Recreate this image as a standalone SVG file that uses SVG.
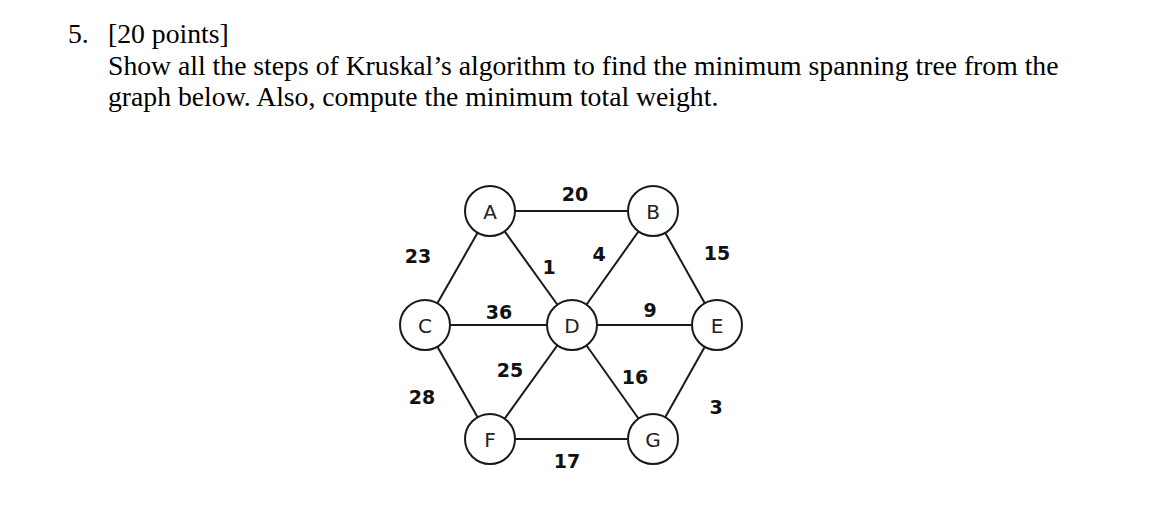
<svg xmlns="http://www.w3.org/2000/svg" width="1149" height="525" viewBox="0 0 1149 525">
<style>
.t{font-family:"Liberation Serif","Times New Roman",serif;font-size:27.7px;fill:#000}
.e line{stroke:#1a1a1a;stroke-width:2}
.n circle{fill:#fff;stroke:#1a1a1a;stroke-width:2}
.n text{font-family:"DejaVu Sans",Verdana,sans-serif;font-size:20px;fill:#222;text-anchor:middle;dominant-baseline:central}
.w{font-family:"DejaVu Sans",Verdana,sans-serif;font-size:19px;font-weight:bold;fill:#111;text-anchor:middle;dominant-baseline:central}
</style>
<rect width="1149" height="525" fill="#fff"/>
<text class="t" x="68" y="43">5.</text>
<text class="t" x="108" y="43">[20 points]</text>
<text class="t" x="108" y="75">Show all the steps of Kruskal’s algorithm to find the minimum spanning tree from the</text>
<text class="t" x="108" y="106">graph below. Also, compute the minimum total weight.</text>
<g class="e" id="edges">
<line x1="490" y1="211" x2="653" y2="211"/>
<line x1="490" y1="211" x2="425" y2="325"/>
<line x1="490" y1="211" x2="572" y2="325"/>
<line x1="653" y1="211" x2="572" y2="325"/>
<line x1="653" y1="211" x2="717" y2="325"/>
<line x1="425" y1="325" x2="572" y2="325"/>
<line x1="572" y1="325" x2="717" y2="325"/>
<line x1="425" y1="325" x2="490" y2="439"/>
<line x1="572" y1="325" x2="490" y2="439"/>
<line x1="572" y1="325" x2="653" y2="439"/>
<line x1="717" y1="325" x2="653" y2="439"/>
<line x1="490" y1="439" x2="653" y2="439"/>
</g>
<g id="weights">
<text class="w" x="575" y="194">20</text>
<text class="w" x="418" y="256">23</text>
<text class="w" x="549" y="267">1</text>
<text class="w" x="599" y="254">4</text>
<text class="w" x="717" y="253">15</text>
<text class="w" x="499" y="312">36</text>
<text class="w" x="650" y="310">9</text>
<text class="w" x="510" y="370">25</text>
<text class="w" x="635" y="377">16</text>
<text class="w" x="422" y="397">28</text>
<text class="w" x="716" y="407">3</text>
<text class="w" x="567" y="461">17</text>
</g>
<g class="n" id="A"><circle cx="490" cy="211" r="25"/><text x="490" y="212">A</text></g>
<g class="n" id="B"><circle cx="653" cy="211" r="25"/><text x="653" y="212">B</text></g>
<g class="n" id="C"><circle cx="425" cy="325" r="25"/><text x="425" y="326">C</text></g>
<g class="n" id="D"><circle cx="572" cy="325" r="25"/><text x="572" y="326">D</text></g>
<g class="n" id="E"><circle cx="717" cy="325" r="25"/><text x="717" y="326">E</text></g>
<g class="n" id="F"><circle cx="490" cy="439" r="25"/><text x="490" y="440">F</text></g>
<g class="n" id="G"><circle cx="653" cy="439" r="25"/><text x="653" y="440">G</text></g>
</svg>
